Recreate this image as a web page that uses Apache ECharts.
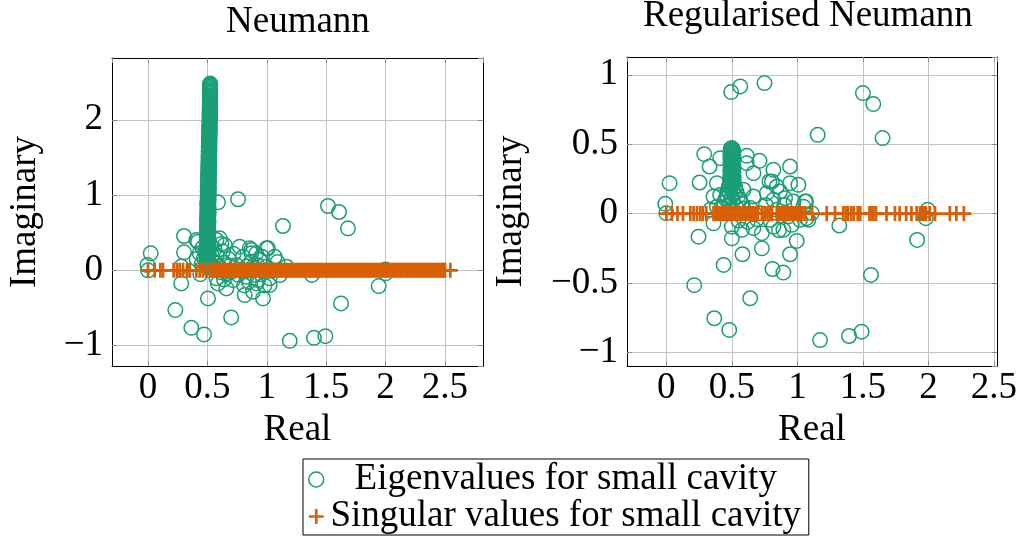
<!DOCTYPE html>
<html>
<head>
<meta charset="utf-8">
<script src="https://cdn.jsdelivr.net/npm/echarts@6/dist/echarts.min.js"></script>
<style>
html,body{margin:0;padding:0;background:#fff;}
#c{width:1022px;height:543px;}
</style>
</head>
<body>
<div id="c"></div>
<script>
// ---------------- data ----------------
const titles = ['Neumann', 'Regularised Neumann'];
const seriesNames = ['Eigenvalues for small cavity', 'Singular values for small cavity'];
const xLabel = 'Real';
const yLabel = 'Imaginary';

// Neumann: dense column of eigenvalues near Re = 0.5
const neumannEigColumn = [
[0.497,0.040],[0.503,0.055],[0.494,0.071],[0.508,0.088],[0.499,0.102],[0.491,0.118],[0.505,0.135],[0.497,0.150],[0.510,0.166],[0.493,0.183],
[0.502,0.198],[0.496,0.214],[0.507,0.231],[0.499,0.246],[0.492,0.262],[0.504,0.279],[0.498,0.294],[0.509,0.311],[0.495,0.327],[0.501,0.342],
[0.506,0.358],[0.494,0.375],[0.500,0.391],[0.508,0.406],[0.497,0.423],[0.503,0.439],[0.493,0.454],[0.506,0.471],[0.499,0.487],[0.504,0.502],
[0.496,0.518],[0.509,0.535],[0.501,0.550],[0.495,0.566],[0.507,0.583],[0.500,0.598],[0.504,0.614],[0.497,0.631],[0.510,0.646],[0.502,0.662],
[0.496,0.679],[0.506,0.694],[0.500,0.710],[0.509,0.727],[0.498,0.742],[0.504,0.758],[0.511,0.775],[0.499,0.790],[0.505,0.806],[0.501,0.823],
[0.510,0.838],[0.503,0.854],[0.498,0.871],[0.508,0.886],[0.505,0.902],[0.500,0.919],[0.511,0.934],[0.506,0.950],[0.502,0.967],[0.509,0.982],
[0.504,0.998],[0.512,1.015],[0.507,1.030],[0.502,1.046],[0.510,1.063],[0.506,1.078],[0.513,1.094],[0.503,1.111],[0.509,1.126],[0.506,1.142],
[0.512,1.159],[0.504,1.174],[0.510,1.190],[0.514,1.207],[0.507,1.222],[0.511,1.238],[0.505,1.255],[0.513,1.270],[0.508,1.286],[0.512,1.303],
[0.506,1.318],[0.514,1.334],[0.509,1.351],[0.513,1.366],[0.507,1.382],[0.515,1.399],[0.510,1.414],[0.513,1.430],[0.508,1.447],[0.516,1.462],
[0.511,1.478],[0.514,1.495],[0.509,1.510],[0.516,1.526],[0.512,1.543],[0.515,1.558],[0.510,1.574],[0.517,1.591],[0.512,1.606],[0.515,1.622],
[0.511,1.639],[0.518,1.654],[0.513,1.670],[0.516,1.687],[0.512,1.702],[0.518,1.718],[0.514,1.735],[0.517,1.750],[0.513,1.766],[0.519,1.783],
[0.515,1.798],[0.518,1.814],[0.514,1.831],[0.520,1.846],[0.516,1.862],[0.519,1.879],[0.515,1.894],[0.520,1.910],[0.517,1.927],[0.520,1.942],
[0.516,1.958],[0.521,1.975],[0.518,1.990],[0.521,2.006],[0.517,2.023],[0.522,2.038],[0.518,2.054],[0.521,2.071],[0.518,2.086],[0.522,2.102],
[0.519,2.119],[0.523,2.134],[0.519,2.150],[0.522,2.167],[0.520,2.182],[0.523,2.198],[0.520,2.215],[0.524,2.230],[0.521,2.246],[0.523,2.263],
[0.520,2.278],[0.524,2.294],[0.521,2.311],[0.523,2.326],[0.521,2.342],[0.524,2.359],[0.522,2.374],[0.524,2.390],[0.521,2.407],[0.523,2.422],
[0.522,2.438],[0.524,2.455],[0.522,2.468],[0.523,2.480]
];

// Neumann: scattered eigenvalues
const neumannEigScatter = [
[0.000,0.000],[-0.005,0.070],[0.023,0.226],[0.280,0.050],[0.280,-0.173],[0.303,0.239],[0.303,0.456],[0.230,-0.528],[0.365,-0.763],[0.472,-0.851],
[0.505,-0.372],[0.700,-0.625],[0.589,0.904],[0.758,0.944],[1.136,0.589],[1.515,0.855],[1.608,0.775],[1.683,0.558],[1.193,-0.936],[1.397,-0.896],
[1.493,-0.874],[1.625,-0.439],[1.942,-0.209],[2.000,-0.040],[2.000,0.010],[1.380,-0.060],
[0.772,0.314],[0.856,0.292],[1.010,0.292],[0.912,0.226],[1.066,0.181],[1.165,0.048],[0.589,-0.173],[0.660,-0.240],[0.814,-0.328],[0.884,-0.284],
[0.968,-0.372],[1.024,-0.195],[0.912,-0.173],[1.109,-0.062],[0.618,0.350],[0.576,0.403],[0.646,0.336],[0.604,0.425],[0.421,0.380],[0.870,0.270],
[0.997,0.292],[0.407,0.403],[0.435,0.226],[0.410,0.150],[0.450,0.080],[0.440,-0.050],[0.576,-0.106],[0.660,-0.040],[0.870,0.115],[0.940,0.137],
[0.997,0.048],[1.050,0.000],[1.024,-0.106],[0.926,-0.130],[0.828,-0.085],[0.716,-0.130],[0.744,0.070],[0.870,0.226],[0.550,0.120],[0.580,0.200],
[0.600,0.050],[0.620,-0.030],[0.680,0.150],[0.720,0.220],[0.800,0.180],[0.830,0.050],[0.900,0.020],[0.950,-0.050],[0.760,-0.060],[0.850,-0.150],
[0.980,-0.200],[0.560,0.280],[0.460,0.300],[0.530,0.330],[0.550,0.050],[0.640,0.100],[0.920,0.070],[0.860,0.000],[0.780,0.000],[0.700,-0.020],
[0.470,0.160],[0.540,0.190],[0.480,0.240],[0.630,0.250],[0.690,0.060],[0.960,0.180],[1.090,0.110],[0.890,-0.060],[0.810,-0.200],[0.640,-0.120]
];

// Neumann: singular values (real, plotted on Im = 0)
const neumannSingular = [
0.000,0.056,0.104,0.126,0.216,0.244,0.267,0.295,0.328,0.351,0.407,0.435,0.463,0.491,
0.520,0.536,0.553,0.571,0.588,0.603,0.621,0.638,0.654,0.672,0.689,0.705,0.722,0.740,0.756,0.773,0.791,0.807,0.824,0.842,
0.858,0.875,0.893,0.909,0.926,0.944,0.960,0.977,0.995,1.011,1.028,1.046,1.062,1.079,1.097,1.113,1.130,1.148,1.164,1.181,
1.199,1.215,1.232,1.250,1.266,1.283,1.301,1.317,1.334,1.352,1.368,1.385,1.403,1.419,1.436,1.454,1.470,1.487,1.505,1.521,
1.538,1.556,1.572,1.589,1.607,1.623,1.640,1.658,1.674,1.691,1.709,1.725,1.742,1.760,1.776,1.793,1.811,1.827,1.844,1.862,
1.878,1.895,1.913,1.929,1.946,1.964,1.980,1.997,2.015,2.031,2.048,2.066,2.082,2.099,2.117,2.133,2.150,2.168,2.184,2.201,
2.219,2.235,2.252,2.270,2.286,2.303,2.321,2.337,2.354,2.372,2.388,2.405,2.423,2.439,2.456,2.474,2.490,2.500,2.545
];

// Regularised Neumann: eigenvalues
const regEigColumn = [
[0.500,0.472],[0.492,0.467],[0.508,0.462],[0.496,0.456],[0.511,0.451],[0.489,0.445],[0.503,0.440],[0.510,0.434],[0.491,0.429],[0.499,0.423],
[0.512,0.418],[0.488,0.412],[0.504,0.407],[0.495,0.401],[0.510,0.396],[0.490,0.390],[0.502,0.385],[0.513,0.379],[0.493,0.374],[0.506,0.368],
[0.489,0.363],[0.500,0.357],[0.511,0.352],[0.494,0.346],[0.507,0.341],[0.490,0.335],[0.503,0.330],[0.513,0.324],[0.492,0.319],[0.501,0.313],
[0.509,0.308],[0.488,0.302],[0.498,0.297],[0.512,0.291],[0.494,0.286],[0.505,0.280],[0.489,0.275],[0.510,0.269],[0.497,0.264],[0.514,0.258],
[0.486,0.253],[0.503,0.247],[0.492,0.242],[0.512,0.236],[0.484,0.231],[0.500,0.225],[0.516,0.220],[0.490,0.214],[0.507,0.209],[0.478,0.200],
[0.525,0.192],[0.490,0.183],[0.505,0.175],[0.470,0.166],[0.535,0.158],[0.483,0.149],[0.517,0.141],[0.462,0.132],[0.548,0.124],[0.495,0.115],
[0.452,0.106],[0.560,0.098],[0.508,0.089],[0.440,0.080],[0.575,0.072],[0.478,0.063],[0.530,0.054],[0.425,0.046],[0.590,0.037]
];
const regEigScatter = [
[0.495,0.875],[0.564,0.916],[0.749,0.940],[1.500,0.868],[1.579,0.789],[1.650,0.544],[1.155,0.567],[0.289,0.428],[0.330,0.339],[0.025,0.219],
[0.254,0.224],[-0.008,0.070],[0.000,0.003],[0.246,-0.166],[0.213,-0.516],[0.437,-0.370],[0.366,-0.754],[0.480,-0.838],[0.640,-0.610],[0.581,-0.293],
[0.729,-0.250],[0.810,-0.399],[0.893,-0.425],[0.944,-0.293],[0.995,-0.197],[0.500,-0.178],[1.173,-0.911],[1.394,-0.882],[1.490,-0.851],[1.561,-0.442],
[1.914,-0.190],[1.980,-0.033],[1.993,0.027],[1.320,-0.086],[1.070,-0.033],[1.110,0.003],[0.944,0.339],[0.817,0.315],[0.711,0.380],[0.614,0.416],
[1.008,0.207],[0.944,0.219],[0.787,0.231],[0.843,0.195],[1.066,0.087],[0.386,0.219],[0.360,0.123],[0.665,0.291],[0.614,0.363],[0.411,0.399],
[0.805,0.231],[0.411,0.135],[0.589,0.171],[0.665,0.123],[0.767,0.147],[0.817,0.099],[0.868,0.159],[0.906,0.111],[0.970,0.087],[1.059,0.087],
[1.084,-0.045],[0.500,-0.094],[0.577,-0.117],[0.665,-0.105],[0.729,-0.141],[0.817,-0.094],[0.893,-0.117],[0.957,-0.081],[0.335,0.027],[0.386,0.050],
[0.462,0.014],[0.360,-0.070],[0.716,0.003],[1.046,0.050],[1.020,-0.045],[0.792,-0.045],[0.843,0.027],[0.550,-0.050],[0.620,-0.060],[0.690,-0.040],
[0.860,-0.120],[0.930,-0.020],[0.760,0.060],[0.640,0.040],[0.900,0.060],[0.560,0.100]
];
const regSingular = [
0.000,0.043,0.085,0.127,0.183,0.208,0.234,0.259,0.279,0.305,
0.360,0.375,0.390,0.405,0.420,0.436,0.450,0.466,0.480,0.497,0.512,0.527,0.543,0.558,0.574,0.589,0.605,0.620,0.636,0.652,0.667,0.683,0.698,
0.729,0.750,0.772,0.790,0.805,0.843,0.858,0.873,0.889,0.902,0.918,0.933,0.947,0.962,0.977,0.991,1.006,1.021,1.038,1.059,
1.112,1.224,1.287,1.350,1.370,1.385,1.410,1.430,1.460,1.480,1.550,1.565,1.580,1.600,1.680,1.744,1.780,1.830,1.870,1.910,
1.935,1.950,1.965,1.980,2.010,2.050,2.163,2.213,2.270
];

// ---------------- chart ----------------
const FONT = "'Liberation Serif', 'Times New Roman', serif";
const GREEN = '#1b9e77';
const ORANGE = '#d95f02';
const PLUS = 'path://M6.15,0H8.85V6.15H15V8.85H8.85V15H6.15V8.85H0V6.15H6.15Z';

const grids = [
  {left: 112, top: 58, width: 371, height: 308},
  {left: 627, top: 57, width: 370, height: 309}
];
const xRanges = [[-0.303, 2.82], [-0.30, 2.523]];
const yRanges = [[-1.27, 2.82], [-1.098, 1.128]];
const yNameGap = [68, 97];

function fmt(v) {
  if (Math.abs(v) < 1e-9) return '0';
  const s = String(Math.round(v * 1000) / 1000);
  return s.replace('-', '\u2212');
}

const xAxes = [], yAxes = [];
[0, 1].forEach(function (g) {
  const tickStyle = {show: true, inside: true, length: 5, lineStyle: {color: '#8c8c8c', width: 1}};
  const lineStyle = {show: true, onZero: false, lineStyle: {color: '#000', width: 1}};
  xAxes.push({
    type: 'value', gridIndex: g, position: 'bottom', min: xRanges[g][0], max: xRanges[g][1], splitNumber: 6,
    axisLine: lineStyle, axisTick: tickStyle,
    axisLabel: {fontFamily: FONT, fontSize: 37, color: '#000', margin: 4, showMinLabel: false, showMaxLabel: false, formatter: fmt},
    splitLine: {show: true, showMinLine: false, showMaxLine: false, lineStyle: {color: '#c4c4c4', width: 1}},
    name: xLabel, nameLocation: 'middle', nameGap: 40,
    nameTextStyle: {fontFamily: FONT, fontSize: 37, color: '#000'}
  });
  xAxes.push({
    type: 'value', gridIndex: g, position: 'top', min: xRanges[g][0], max: xRanges[g][1], splitNumber: 6,
    axisLine: lineStyle, axisTick: tickStyle, axisLabel: {show: false}, splitLine: {show: false}
  });
  yAxes.push({
    type: 'value', gridIndex: g, position: 'left', min: yRanges[g][0], max: yRanges[g][1], splitNumber: 4,
    axisLine: lineStyle, axisTick: tickStyle,
    axisLabel: {fontFamily: FONT, fontSize: 37, color: '#000', margin: 9, showMinLabel: false, showMaxLabel: false, formatter: fmt},
    splitLine: {show: true, showMinLine: false, showMaxLine: false, lineStyle: {color: '#c4c4c4', width: 1}},
    name: yLabel, nameLocation: 'middle', nameGap: yNameGap[g], nameRotate: 90,
    nameTextStyle: {fontFamily: FONT, fontSize: 37, color: '#000'}
  });
  yAxes.push({
    type: 'value', gridIndex: g, position: 'right', min: yRanges[g][0], max: yRanges[g][1], splitNumber: 4,
    axisLine: lineStyle, axisTick: tickStyle, axisLabel: {show: false}, splitLine: {show: false}
  });
});

function eigSeries(g, data) {
  return {
    name: seriesNames[0], type: 'scatter', xAxisIndex: g * 2, yAxisIndex: g * 2,
    data: data, symbol: 'circle', symbolSize: 14.5,
    itemStyle: {color: 'rgba(0,0,0,0)', borderColor: GREEN, borderWidth: 1.5, opacity: 1},
    emphasis: {disabled: true}, z: 3
  };
}
function singSeries(g, vals) {
  return {
    name: seriesNames[1], type: 'scatter', xAxisIndex: g * 2, yAxisIndex: g * 2,
    data: vals.map(function (v) { return [v, 0]; }), symbol: PLUS, symbolSize: 15,
    itemStyle: {color: ORANGE, borderWidth: 0, opacity: 1},
    emphasis: {disabled: true}, z: 4
  };
}

const option = {
  animation: false,
  backgroundColor: '#fff',
  title: [
    {text: titles[0], left: 226, top: 4, textStyle: {fontFamily: FONT, fontSize: 37, fontWeight: 'normal', color: '#000'}, padding: 0},
    {text: titles[1], left: 643, top: -2, textStyle: {fontFamily: FONT, fontSize: 37, fontWeight: 'normal', color: '#000'}, padding: 0}
  ],
  legend: {
    show: true, orient: 'vertical', left: 303, top: 459,
    padding: [2, 6, 0, 5], itemGap: 0, itemWidth: 15, itemHeight: 15,
    borderColor: '#000', borderWidth: 1, backgroundColor: '#fff',
    selectedMode: false,
    formatter: function (n) { return '{t|' + n + '}'; },
    textStyle: {
      fontFamily: FONT, fontSize: 37, color: '#000',
      rich: {t: {fontFamily: FONT, fontSize: 37, color: '#000', width: 474, align: 'center', lineHeight: 40}}
    },
    data: [
      {name: seriesNames[0], icon: 'circle', itemStyle: {color: 'rgba(0,0,0,0)', borderColor: GREEN, borderWidth: 1.5, opacity: 1}},
      {name: seriesNames[1], icon: PLUS, itemStyle: {color: ORANGE, borderWidth: 0, opacity: 1}}
    ]
  },
  grid: grids.map(function (g) { return Object.assign({containLabel: false, show: false}, g); }),
  xAxis: xAxes,
  yAxis: yAxes,
  series: [
    eigSeries(0, neumannEigColumn.concat(neumannEigScatter)),
    singSeries(0, neumannSingular),
    eigSeries(1, regEigColumn.concat(regEigScatter)),
    singSeries(1, regSingular)
  ]
};

const chart = echarts.init(document.getElementById('c'), null, {renderer: 'canvas'});
chart.setOption(option);
</script>
</body>
</html>
